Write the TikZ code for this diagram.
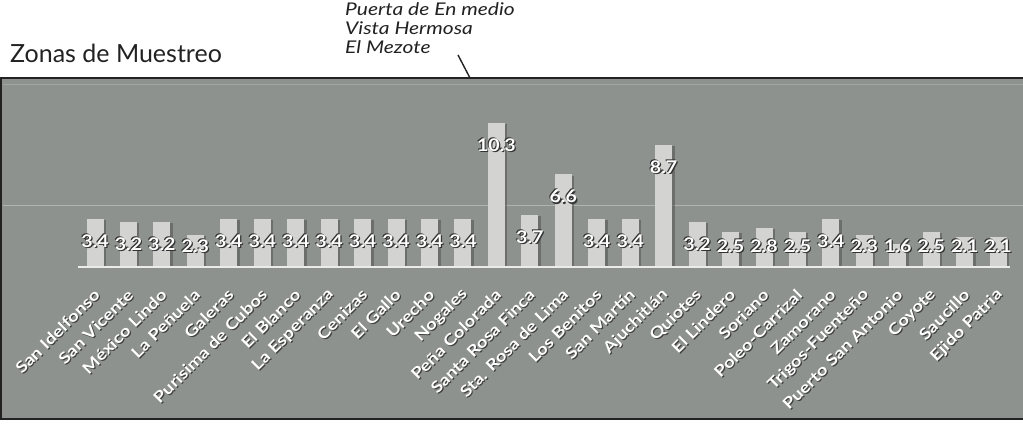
\documentclass[tikz,border=0pt]{standalone}
\usepackage{fontspec}
\setmainfont{Lato}
\newfontfamily\widesans[FakeStretch=1.2]{Lato}
\newfontfamily\valsans[FakeStretch=1.12]{Lato}
\definecolor{panelgray}{HTML}{8E928E}
\definecolor{barfill}{HTML}{D3D4D2}
\definecolor{inkdark}{HTML}{222222}
\begin{document}
\begin{tikzpicture}[x=1pt,y=1pt,
  titletext/.style={anchor=base west, inner sep=0, text=inkdark, font=\fontsize{25}{25}\selectfont},
  notetext/.style={anchor=north west, inner sep=0, text=inkdark, align=left, font=\widesans\itshape\fontsize{17.5}{19}\selectfont},
  barbox/.style={fill=barfill, draw=none, inner sep=0, minimum width=17pt, anchor=south},
  barshade/.style={fill=black!70, opacity=0.5, draw=none},
  valtext/.style={text=white, inner sep=0, font=\valsans\bfseries\fontsize{17.5}{17.5}\selectfont},
  valshade/.style={text=black!80, inner sep=0, font=\valsans\bfseries\fontsize{17.5}{17.5}\selectfont},
  axtext/.style={text=white, inner sep=0, rotate=45, anchor=east, font=\widesans\bfseries\fontsize{15.5}{15.5}\selectfont},
  axshade/.style={text=black!75, inner sep=0, rotate=45, anchor=east, font=\widesans\bfseries\fontsize{15.5}{15.5}\selectfont},
  gridline/.style={draw=white!30!panelgray, line width=0.8pt},
  axisline/.style={draw=white!92!black, line width=1.6pt},
  pointer/.style={draw=inkdark, line width=1.4pt}
]
\useasboundingbox (0,0) rectangle (1023,424);
\fill[white] (0,0) rectangle (1023,424);
% panel
\fill[panelgray] (0,5) rectangle (1023,346);
\draw[inkdark, line width=1.5pt] (0,346) -- (1023,346);
\draw[inkdark, line width=1.5pt] (0,5) -- (1023,5);
\draw[inkdark, line width=2pt] (1,5) -- (1,346);
% gridlines
\draw[gridline] (3,219) -- (1023,219);
\draw[gridline, opacity=0.6] (3,340) -- (1023,340);
% title and note
\node[titletext] (title) at (10,361) {Zonas de Muestreo};
\node[notetext] (note) at (345,422) {Puerta de En medio\\Vista Hermosa\\El Mezote};
\coordinate (ptop) at (458,369);
\coordinate (pbot) at (470,346);
\draw[pointer] (ptop) -- (pbot);
% bars
\foreach \v [count=\i from 0] in {3.4,3.2,3.2,2.3,3.4,3.4,3.4,3.4,3.4,3.4,3.4,3.4,10.3,3.7,6.6,3.4,3.4,8.7,3.2,2.5,2.8,2.5,3.4,2.3,1.6,2.5,2.1,2.1} {
  \pgfmathsetmacro\bx{95+33.45*\i}
  \pgfmathsetmacro\bh{14*\v}
  \pgfmathsetmacro\ly{max(157+\bh-22,178)}
  \fill[barshade] (\bx-6,157) rectangle (\bx+11,157+\bh-1);
  \node[barbox, minimum height=\bh pt] (bar\i) at (\bx,157) {};
  \node[valshade] (vs\i a) at (\bx+1.2,\ly-1.2) {\v};
  \node[valshade] (vs\i b) at (\bx-1,\ly+1) {\v};
  \node[valtext] (val\i) at (\bx,\ly) {\v};
}
\draw[axisline] (78,157) -- (1010,157);
% axis labels
\foreach \t [count=\i from 0] in {San Idelfonso,San Vicente,México Lindo,La Peñuela,Galeras,Purisima de Cubos,El Blanco,La Esperanza,Cenizas,El Gallo,Urecho,Nogales,Peña Colorada,Santa Rosa Finca,Sta. Rosa de Lima,Los Benitos,San Martín,Ajuchitlán,Quiotes,El Lindero,Soriano,Poleo-Carrizal,Zamorano,Trigos-Fuenteño,Puerto San Antonio,Coyote,Saucillo,Ejido Patria} {
  \pgfmathsetmacro\bx{95+33.45*\i}
  \node[axshade] (axs\i) at (\bx+3.2,131) {\t};
  \node[axtext] (ax\i) at (\bx+2,132) {\t};
}
\end{tikzpicture}
\end{document}
